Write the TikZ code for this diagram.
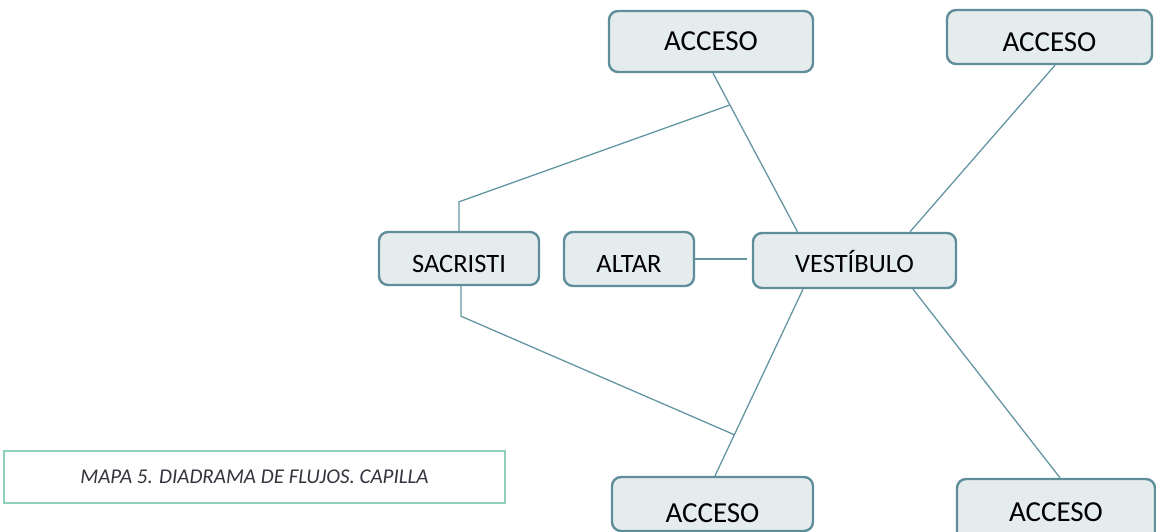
\documentclass[tikz,border=0pt]{standalone}
\usepackage{fontspec}
\setmainfont{Carlito}
\usetikzlibrary{positioning, calc}
\definecolor{boxfill}{HTML}{E5ECEE}
\definecolor{boxline}{HTML}{5F8E9A}
\definecolor{flowline}{HTML}{6496A2}
\definecolor{capline}{HTML}{8FD1B6}
\definecolor{captext}{HTML}{34343F}

\begin{document}
\begin{tikzpicture}[x=1pt, y=-1pt,
    room/.style={rectangle, draw=boxline, fill=boxfill, line width=2.4pt, rounded corners=9pt,
                 inner sep=0pt, text depth=0pt, font=\fontsize{26.5}{30}\selectfont},
    door/.style={room, font=\fontsize{29}{33}\selectfont},
    flow/.style={draw=flowline, line width=1.3pt}
]
    \useasboundingbox (0,0) rectangle (1156,532);
    \clip (0,0) rectangle (1156,532);

    % Accesos
    \node[door, minimum width=204pt, minimum height=61pt] (acc1) at (711,41.5) {ACCESO};
    \node[door, text height=30pt, minimum width=205pt, minimum height=54pt] (acc2) at (1049.5,37) {ACCESO};
    \node[door, text height=37pt, minimum width=201pt, minimum height=54pt] (acc3) at (712.5,504) {ACCESO};
    \node[door, text height=23pt, minimum width=198pt, minimum height=62pt] (acc4) at (1056,510) {ACCESO};

    % Rooms
    \node[room, text height=27pt, minimum width=160pt, minimum height=53pt] (sac) at (459,258.5) {SACRISTI};
    \node[room, text height=26pt, minimum width=130pt, minimum height=54pt] (altar) at (629,259) {ALTAR};
    \node[room, text height=24pt, minimum width=203pt, minimum height=55pt] (vest) at (854.5,260.5) {VESTÍBULO};

    % Flows
    \draw[flow] ([xshift=2pt]acc1.south) -- coordinate[pos=0.2] (jup) ([xshift=-57pt]vest.north);
    \draw[flow] ([xshift=5.5pt]acc2.south) -- ([xshift=55.5pt]vest.north);
    \draw[flow] ([xshift=-51.5pt]vest.south) -- coordinate[pos=0.78] (jdown) ([xshift=2.5pt]acc3.north);
    \draw[flow] ([xshift=58.5pt]vest.south) -- ([xshift=4pt]acc4.north);
    \draw[flow] (altar.east) -- ([xshift=-5pt]vest.west |- altar.east);
    \draw[flow] (sac.north) -- ++(0,-29) -- (jup);
    \draw[flow] ([xshift=2pt]sac.south) -- ++(0,30) -- (jdown);

    % Caption
    \node[draw=capline, line width=1.3pt, minimum width=501pt, minimum height=52pt, inner sep=0pt,
          font=\itshape\fontsize{21}{24}\selectfont, text=captext] (caption) at (254.5,477)
          {MAPA 5. DIADRAMA DE FLUJOS. CAPILLA};

\end{tikzpicture}
\end{document}
